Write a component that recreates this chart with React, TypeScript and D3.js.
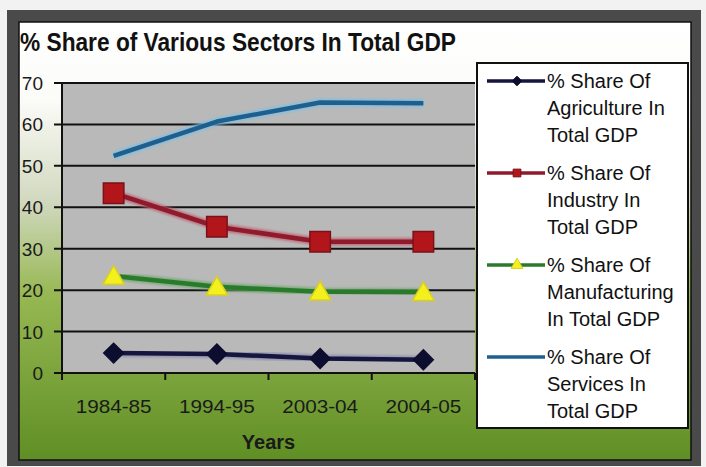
import React from "react";
import * as d3 from "d3";

const categories = ["1984-85", "1994-95", "2003-04", "2004-05"];
const agriculture = [4.8, 4.6, 3.5, 3.2];
const industry = [43.4, 35.3, 31.7, 31.7];
const manufacturing = [23.4, 20.8, 19.6, 19.5];
const services = [52.4, 60.7, 65.3, 65.1];
const yTicks = [0, 10, 20, 30, 40, 50, 60, 70];
const titleText = "% Share of Various Sectors In Total GDP";
const xTitle = "Years";
const legendLabels = [
  ["% Share Of", "Agriculture In", "Total GDP"],
  ["% Share Of", "Industry In", "Total GDP"],
  ["% Share Of", "Manufacturing", "In Total GDP"],
  ["% Share Of", "Services In", "Total GDP"],
];

const W = 706, H = 467;
const PL = 62, PR = 475, PT = 83, PB = 373;

type Series = { values: number[]; line: string; glow: string; marker: string; fill: string; mstroke: string; size: number };
const series: Series[] = [
  { values: agriculture, line: "#15153d", glow: "#8a8ab0", marker: "diamond", fill: "#0d0d30", mstroke: "#0d0d30", size: 250 },
  { values: industry, line: "#8e1a2c", glow: "#c06070", marker: "square", fill: "#b3161a", mstroke: "#7a1018", size: 420 },
  { values: manufacturing, line: "#2a7a2c", glow: "#70a870", marker: "triangle", fill: "#f4f01e", mstroke: "#d8d020", size: 200 },
  { values: services, line: "#1f5f8e", glow: "#7cc0e4", marker: "none", fill: "none", mstroke: "none", size: 0 },
];

function markerPath(kind: string, size: number) {
  if (kind === "diamond") return d3.symbol(d3.symbolDiamond2, size)() as string;
  if (kind === "square") return d3.symbol(d3.symbolSquare, size)() as string;
  if (kind === "triangle") return d3.symbol(d3.symbolTriangle, size)() as string;
  return "";
}

export default function App() {
  const x = d3.scaleBand().domain(categories).range([PL, PR]);
  const cx = (c: string) => (x(c) as number) + x.bandwidth() / 2;
  const y = d3.scaleLinear().domain([0, 70]).range([PB, PT]);
  const line = d3.line<number>().x((_, i) => cx(categories[i])).y((d) => y(d));
  const xTickPos = [...categories.map((c) => x(c) as number), PR];

  return (
    <svg width={W} height={H} style={{ position: "absolute", left: 0, top: 0 }} fontFamily="Liberation Sans, Arial, sans-serif">
      <defs>
        <linearGradient id="bg" x1="0" y1="0" x2="0" y2="1">
          <stop offset="0" stopColor="#ffffff" />
          <stop offset="0.18" stopColor="#fbfbf8" />
          <stop offset="0.42" stopColor="#cfd7bb" />
          <stop offset="0.62" stopColor="#97b853" />
          <stop offset="1" stopColor="#5f8f24" />
        </linearGradient>
        <filter id="blur" x="-10%" y="-10%" width="120%" height="120%">
          <feGaussianBlur stdDeviation="1.2" />
        </filter>
      </defs>
      <rect x={0} y={0} width={W} height={H} fill="#f2f2f2" />
      <rect x={7} y={10} width={694} height={456} fill="#4a4a4a" />
      <rect x={19} y={22} width={672} height={438} fill="url(#bg)" stroke="#111" strokeWidth={1.5} />

      <text x={20} y={51} fontSize={25} fontWeight="bold" fill="#111" textLength={436} lengthAdjust="spacingAndGlyphs">{titleText}</text>

      <rect x={PL} y={PT} width={PR - PL} height={PB - PT} fill="#b9b9b9" />
      {yTicks.map((t) => (
        <g key={t}>
          <line x1={PL - 8} x2={PR} y1={y(t)} y2={y(t)} stroke="#111" strokeWidth={2} />
          <text x={43} y={y(t) + 7} fontSize={19} textAnchor="end" fill="#1a1a1a">{t}</text>
        </g>
      ))}
      <line x1={PL} x2={PL} y1={PT} y2={PB} stroke="#111" strokeWidth={2} />
      {xTickPos.map((p, i) => (
        <line key={i} x1={p} x2={p} y1={PB} y2={PB + 7} stroke="#111" strokeWidth={2} />
      ))}
      {categories.map((c) => (
        <text key={c} x={cx(c)} y={413} fontSize={19} textAnchor="middle" fill="#1a1a1a" textLength={76} lengthAdjust="spacingAndGlyphs">{c}</text>
      ))}
      <text x={(PL + PR) / 2} y={449} fontSize={20} fontWeight="bold" textAnchor="middle" fill="#1a1a1a">{xTitle}</text>

      {series.map((s, si) => (
        <g key={si}>
          <path d={line(s.values) as string} fill="none" stroke={s.glow} strokeWidth={8} strokeLinejoin="round" filter="url(#blur)" opacity={0.8} />
          <path d={line(s.values) as string} fill="none" stroke={s.line} strokeWidth={4.5} strokeLinejoin="round" />
          {s.marker !== "none" && s.values.map((v, i) => (
            <path key={i} d={markerPath(s.marker, s.size)} transform={`translate(${cx(categories[i])},${y(v) + (s.marker === "triangle" ? 2 : 0)})`} fill={s.fill} stroke={s.mstroke} strokeWidth={1.5} />
          ))}
        </g>
      ))}

      <rect x={477} y={63} width={211} height={365} fill="#ffffff" stroke="#111" strokeWidth={2} />
      {legendLabels.map((lines, li) => {
        const ly = 81 + li * 92;
        const s = series[li];
        return (
          <g key={li}>
            <line x1={487} x2={545} y1={ly} y2={ly} stroke={s.glow} strokeWidth={6} opacity={0.6} filter="url(#blur)" />
            <line x1={487} x2={545} y1={ly} y2={ly} stroke={s.line} strokeWidth={3.5} />
            {s.marker !== "none" && (
              <path d={markerPath(s.marker, 60)} transform={`translate(517,${ly})`} fill={s.fill} stroke={s.mstroke} strokeWidth={1} />
            )}
            {lines.map((t, k) => (
              <text key={k} x={547} y={ly + 7 + k * 27} fontSize={20} fill="#111">{t}</text>
            ))}
          </g>
        );
      })}
    </svg>
  );
}
